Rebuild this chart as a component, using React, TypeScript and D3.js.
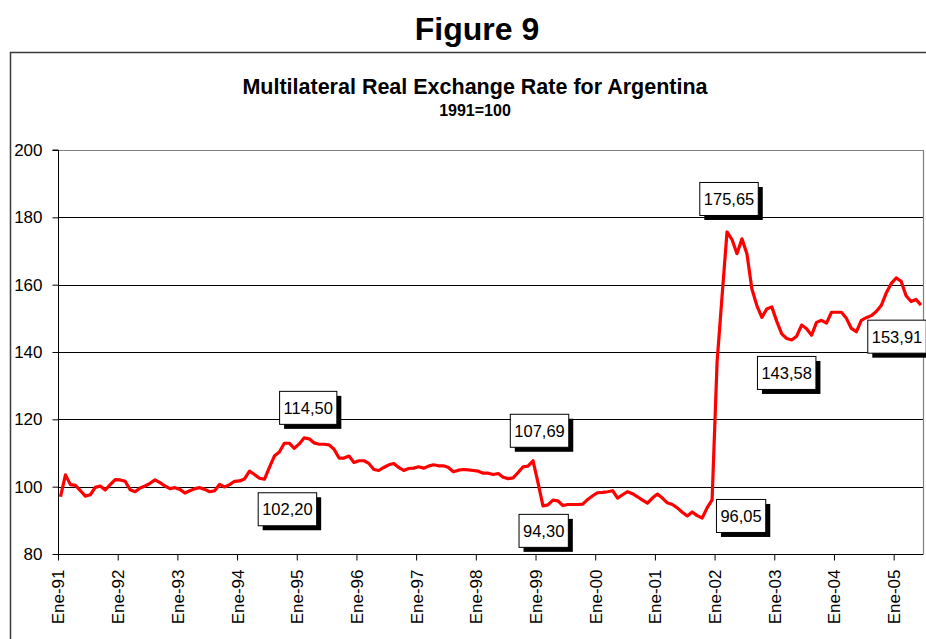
import { useEffect, useRef } from 'react';
import * as d3 from 'd3';

// Monthly index, Jan 1991 (Ene-91) to Jun 2005
const years = ['91', '92', '93', '94', '95', '96', '97', '98', '99', '00', '01', '02', '03', '04', '05'];
const months = d3.range(174);

const rer = [
  // 1991
  97.0, 103.5, 100.6, 100.4, 98.8, 97.2, 97.6, 99.8, 100.2, 99.0, 100.6, 102.1,
  // 1992
  102.0, 101.6, 99.1, 98.5, 99.6, 100.2, 101.0, 102.0, 101.2, 100.2, 99.4, 99.7,
  // 1993
  99.2, 98.1, 98.8, 99.4, 99.7, 99.2, 98.5, 98.8, 100.7, 99.9, 100.6, 101.6,
  // 1994
  101.7, 102.3, 104.6, 103.6, 102.5, 102.2, 105.7, 109.1, 110.3, 112.9, 112.9, 111.4,
  // 1995
  112.7, 114.5, 114.2, 113.0, 112.6, 112.6, 112.4, 111.1, 108.5, 108.5, 109.1, 107.2,
  // 1996
  107.7, 107.7, 106.9, 105.1, 104.8, 105.7, 106.5, 106.9, 105.7, 104.8, 105.4, 105.5,
  // 1997
  105.9, 105.5, 106.1, 106.5, 106.2, 106.2, 105.7, 104.4, 104.9, 105.1, 105.0, 104.8,
  // 1998
  104.6, 104.0, 104.0, 103.6, 103.9, 102.8, 102.4, 102.6, 104.2, 105.9, 106.1, 107.69,
  // 1999
  101.2, 94.3, 94.6, 96.0, 95.8, 94.4, 94.7, 94.7, 94.7, 94.8, 96.2, 97.3,
  // 2000
  98.2, 98.3, 98.5, 98.8, 96.6, 97.6, 98.5, 97.9, 97.0, 96.0, 95.1, 96.6,
  // 2001
  97.8, 96.6, 95.2, 94.7, 93.7, 92.4, 91.3, 92.5, 91.4, 90.7, 93.7, 96.05,
  // 2002
  137.0, 156.5, 175.65, 173.4, 169.2, 173.6, 169.2, 158.7, 153.8, 150.3, 152.8, 153.4,
  // 2003
  149.1, 145.4, 144.0, 143.58, 144.7, 148.0, 146.9, 145.0, 148.8, 149.4, 148.6, 151.8,
  // 2004
  151.8, 151.8, 150.0, 147.0, 146.0, 149.4, 150.2, 150.8, 152.0, 153.8, 157.5, 160.3,
  // 2005
  162.0, 161.0, 156.7, 155.0, 155.6, 153.91,
];

const yTicks = [80, 100, 120, 140, 160, 180, 200];

// months that carry a data label
const labelMonths = [41, 49, 95, 97, 131, 134, 147, 173];
// where each label box sits relative to its point (box centre offset)
const labelOffsets = [
  [23, 30], [4, -30], [6.5, -30], [0.7, 25], [29, 16], [2, -33], [-5, 33], [-24, 31.5],
];

const FONT = '"Liberation Sans", Arial, sans-serif';

export default function App() {
  const svgRef = useRef<SVGSVGElement | null>(null);

  const W = 926;
  const H = 639;
  const plot = { left: 58, right: 923.5, top: 150, bottom: 554 };

  useEffect(() => {
    document.body.style.margin = '0';
    const svg = d3.select(svgRef.current).attr('width', W).attr('height', H);
    svg.selectAll('*').remove();

    svg.append('rect').attr('width', W).attr('height', H).attr('fill', '#fff');

    // Titles
    svg.append('text')
      .attr('x', 477).attr('y', 40)
      .attr('text-anchor', 'middle')
      .attr('font-family', FONT).attr('font-weight', 'bold').attr('font-size', 32)
      .text('Figure 9');

    // Outer chart frame
    svg.append('rect')
      .attr('x', 10.5).attr('y', 52.5)
      .attr('width', 940).attr('height', 620)
      .attr('fill', 'none').attr('stroke', '#3a3a3a').attr('stroke-width', 1.5);

    svg.append('text')
      .attr('x', 475).attr('y', 94)
      .attr('text-anchor', 'middle')
      .attr('font-family', FONT).attr('font-weight', 'bold').attr('font-size', 21.5)
      .text('Multilateral Real Exchange Rate for Argentina');

    svg.append('text')
      .attr('x', 475).attr('y', 116)
      .attr('text-anchor', 'middle')
      .attr('font-family', FONT).attr('font-weight', 'bold').attr('font-size', 16)
      .text('1991=100');

    const x = d3.scaleBand<number>().domain(months).range([plot.left, plot.right]);
    const y = d3.scaleLinear().domain([80, 200]).range([plot.bottom, plot.top]);
    const cx = (i: number) => (x(i) as number) + x.bandwidth() / 2;

    // Gridlines
    svg.append('g')
      .selectAll('line')
      .data(yTicks.filter((t) => t > 80 && t < 200))
      .enter()
      .append('line')
      .attr('x1', plot.left).attr('x2', plot.right)
      .attr('y1', (d) => Math.round(y(d)) + 0.5).attr('y2', (d) => Math.round(y(d)) + 0.5)
      .attr('stroke', '#000').attr('stroke-width', 1);

    // Plot area border (top / right)
    svg.append('path')
      .attr('d', `M${plot.left},${plot.top + 0.5}H${plot.right}V${plot.bottom}`)
      .attr('fill', 'none').attr('stroke', '#808080').attr('stroke-width', 1.2);

    // Y axis
    const yAxis = svg.append('g')
      .attr('transform', `translate(${plot.left + 0.5},0)`)
      .call(d3.axisLeft(y).tickValues(yTicks).tickSize(6).tickPadding(10).tickFormat(d3.format('d')));
    yAxis.select('.domain').attr('stroke', '#000').attr('d', `M-6,${plot.top}H0V${plot.bottom}`);
    yAxis.selectAll('text').attr('font-family', FONT).attr('font-size', 17).attr('fill', '#000');

    // X axis with yearly ticks at January
    const janMonths = years.map((_, k) => k * 12);
    const xAxis = svg.append('g')
      .attr('transform', `translate(0,${plot.bottom + 0.5})`)
      .call(
        d3.axisBottom(x)
          .tickValues(janMonths)
          .tickSize(6)
          .tickFormat((d) => `Ene-${years[(d as number) / 12]}`)
      );
    xAxis.select('.domain').attr('stroke', '#000').attr('d', `M${plot.left},0H${plot.right}`);
    xAxis.selectAll('.tick')
      .attr('transform', (d) => `translate(${(x(d as number) as number) + 0.5},0)`);
    xAxis.selectAll('.tick text')
      .attr('font-family', FONT).attr('font-size', 17).attr('fill', '#000')
      .attr('transform', 'rotate(-90)')
      .attr('x', -15).attr('y', 0).attr('dy', '0.35em')
      .attr('text-anchor', 'end');

    // Series line
    const line = d3.line<number>()
      .x((_, i) => cx(i))
      .y((d) => y(d));
    svg.append('path')
      .datum(rer)
      .attr('d', line)
      .attr('fill', 'none')
      .attr('stroke', '#ff0000')
      .attr('stroke-width', 3.2)
      .attr('stroke-linejoin', 'round');

    // Data labels with drop shadows
    const fmt = (v: number) => d3.format('.2f')(v).replace('.', ',');
    labelMonths.forEach((m, k) => {
      const [dx, dy] = labelOffsets[k];
      const bx = cx(m) + dx;
      const by = y(rer[m]) + dy;
      const g = svg.append('g');
      const shadow = g.append('rect').attr('fill', '#000');
      const box = g.append('rect').attr('fill', '#fff').attr('stroke', '#000').attr('stroke-width', 1);
      const t = g.append('text')
        .attr('x', bx).attr('y', by).attr('dy', '0.36em')
        .attr('text-anchor', 'middle')
        .attr('font-family', FONT).attr('font-size', 16.5)
        .text(fmt(rer[m]));
      const tw = (t.node() as SVGTextElement).getComputedTextLength();
      const bw = tw + 8;
      const bh = 33;
      shadow.attr('x', bx - bw / 2 + 4.5).attr('y', by - bh / 2 + 4.5).attr('width', bw).attr('height', bh);
      box.attr('x', bx - bw / 2).attr('y', by - bh / 2).attr('width', bw).attr('height', bh);
    });
  }, []);

  return <svg ref={svgRef}></svg>;
}
